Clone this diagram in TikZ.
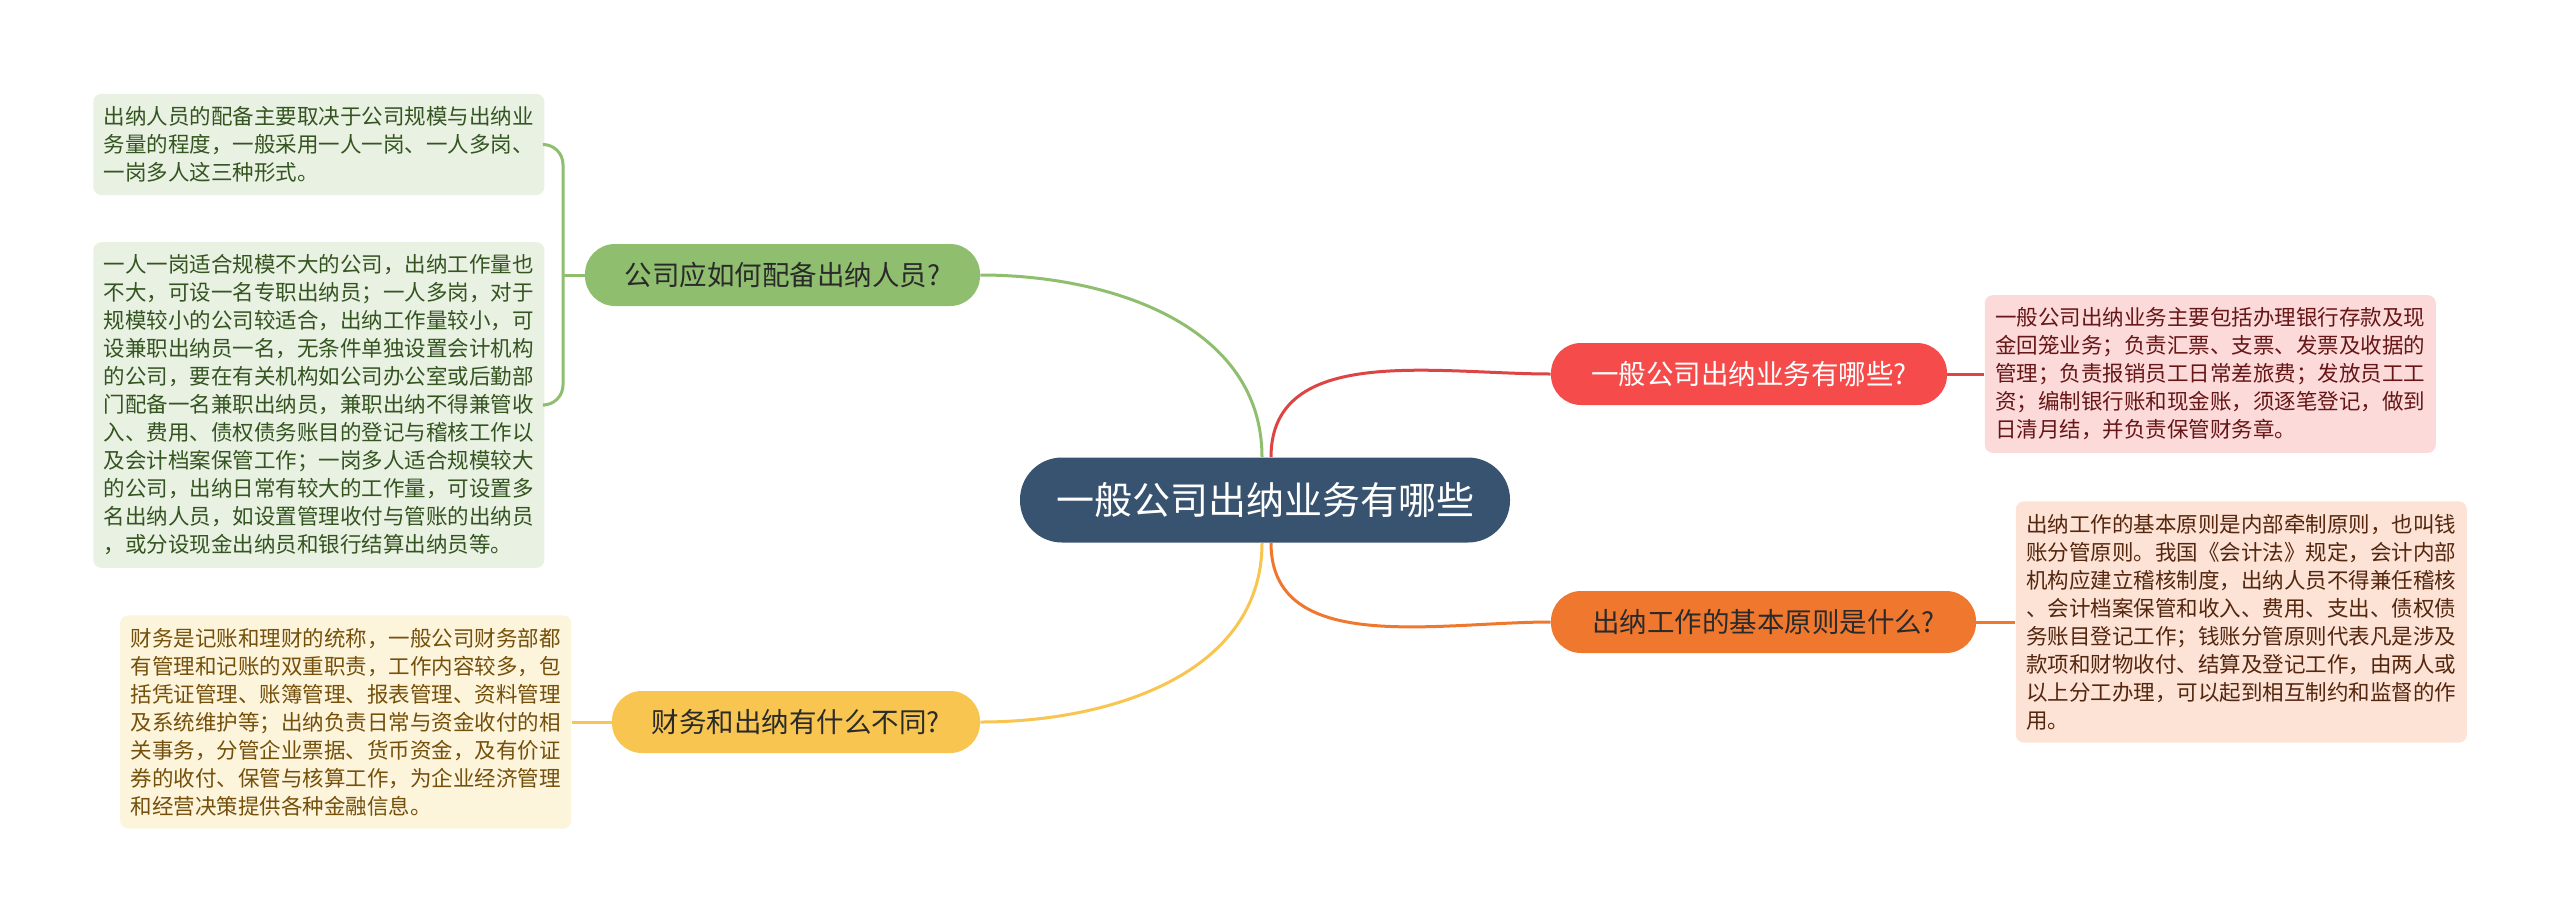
\documentclass[tikz,border=0pt]{standalone}
\usepackage{fontspec}
\setmainfont{Noto Sans CJK SC}
\usetikzlibrary{positioning}
\definecolor{hubblue}{HTML}{38536F}
\definecolor{tgreen}{HTML}{8FBF6E}
\definecolor{tyellow}{HTML}{F8C650}
\definecolor{tred}{HTML}{F64B4B}
\definecolor{torange}{HTML}{F0782E}
\definecolor{ngreen}{HTML}{E9F1E3}
\definecolor{nyellow}{HTML}{FDF4DC}
\definecolor{nred}{HTML}{FCDADA}
\definecolor{norange}{HTML}{FCE3D6}
\definecolor{xgreen}{HTML}{345420}
\definecolor{xyellow}{HTML}{75500A}
\definecolor{xred}{HTML}{661616}
\definecolor{xorange}{HTML}{55260E}
\definecolor{xdark}{HTML}{2A2A2A}

\begin{document}
\begin{tikzpicture}[
  x=0.5pt, y=-0.5pt,
  hub/.style={rectangle, rounded corners=21pt, fill=hubblue, text=white,
              font=\fontsize{19pt}{23pt}\selectfont,
              minimum width=245pt, minimum height=42.5pt},
  topic/.style={rectangle, rounded corners=15pt,
                font=\fontsize{13.75pt}{16pt}\selectfont,
                minimum height=31pt},
  note/.style={rectangle, rounded corners=4pt, align=left,
               text width=215pt, inner xsep=5.25pt, inner ysep=6.3pt,
               font=\fontsize{10.75pt}{14pt}\selectfont},
  link/.style={line width=1.5pt},
  node distance=19.5pt
]
\path[use as bounding box, fill=white] (0,0) rectangle (2560,922);

\node[hub] (hub) at (1265,500) {一般公司出纳业务有哪些};

\node[topic, fill=tgreen, text=xdark, minimum width=197.5pt] (staff) at (782.5,275) {公司应如何配备出纳人员?};
\node[topic, fill=tyellow, text=xdark, minimum width=184pt] (diff) at (796,722) {财务和出纳有什么不同?};
\node[topic, fill=tred, text=white, minimum width=198pt] (duty) at (1749,374) {一般公司出纳业务有哪些?};
\node[topic, fill=torange, text=xdark, minimum width=212.5pt] (rule) at (1763.5,622) {出纳工作的基本原则是什么?};

\node[note, fill=ngreen, text=xgreen, anchor=west] (staffa) at (93,144.5) {出纳人员的配备主要取决于公司规模与出纳业\\
务量的程度，一般采用一人一岗、一人多岗、\\
一岗多人这三种形式。};
\node[note, fill=ngreen, text=xgreen, anchor=west] (staffb) at (93,405) {一人一岗适合规模不大的公司，出纳工作量也\\
不大，可设一名专职出纳员；一人多岗，对于\\
规模较小的公司较适合，出纳工作量较小，可\\
设兼职出纳员一名，无条件单独设置会计机构\\
的公司，要在有关机构如公司办公室或后勤部\\
门配备一名兼职出纳员，兼职出纳不得兼管收\\
入、费用、债权债务账目的登记与稽核工作以\\
及会计档案保管工作；一岗多人适合规模较大\\
的公司，出纳日常有较大的工作量，可设置多\\
名出纳人员，如设置管理收付与管账的出纳员\\
，或分设现金出纳员和银行结算出纳员等。};
\node[note, fill=nyellow, text=xyellow, left=20pt of diff] (diffa) {财务是记账和理财的统称，一般公司财务部都\\
有管理和记账的双重职责，工作内容较多，包\\
括凭证管理、账簿管理、报表管理、资料管理\\
及系统维护等；出纳负责日常与资金收付的相\\
关事务，分管企业票据、货币资金，及有价证\\
券的收付、保管与核算工作，为企业经济管理\\
和经营决策提供各种金融信息。};
\node[note, fill=nred, text=xred, right=18.5pt of duty] (dutya) {一般公司出纳业务主要包括办理银行存款及现\\
金回笼业务；负责汇票、支票、发票及收据的\\
管理；负责报销员工日常差旅费；发放员工工\\
资；编制银行账和现金账，须逐笔登记，做到\\
日清月结，并负责保管财务章。};
\node[note, fill=norange, text=xorange, right=of rule] (rulea) {出纳工作的基本原则是内部牵制原则，也叫钱\\
账分管原则。我国《会计法》规定，会计内部\\
机构应建立稽核制度，出纳人员不得兼任稽核\\
、会计档案保管和收入、费用、支出、债权债\\
务账目登记工作；钱账分管原则代表凡是涉及\\
款项和财物收付、结算及登记工作，由两人或\\
以上分工办理，可以起到相互制约和监督的作\\
用。};

\coordinate (staffj) at (563,275);

\draw[link, tgreen] ([xshift=-1.5pt]hub.north) to[out=90, in=0] (staff.east);
\draw[link, tyellow] ([xshift=-1.5pt]hub.south) to[out=-90, in=0] (diff.east);
\draw[link, tred!90!black] ([xshift=3pt]hub.north) to[out=90, in=180] (duty.west);
\draw[link, torange] ([xshift=3pt]hub.south) to[out=-90, in=180] (rule.west);

\draw[link, tgreen] (staff.west) -- (staffj);
\draw[link, tgreen, rounded corners=10pt] (staffa.east) -| (staffj) |- (staffb.east);
\draw[link, tyellow] (diff.west) -- (diffa.east);
\draw[link, tred!90!black] (duty.east) -- (dutya.west);
\draw[link, torange] (rule.east) -- (rulea.west);
\end{tikzpicture}
\end{document}
